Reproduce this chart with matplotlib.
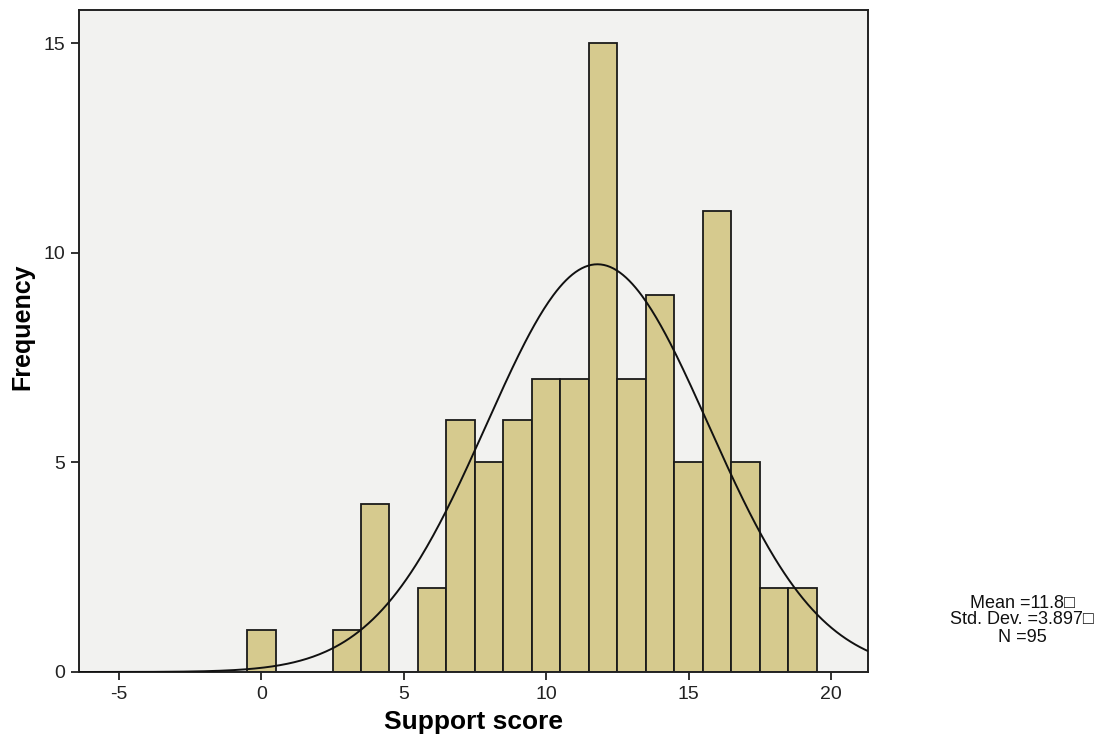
import numpy as np
import matplotlib
matplotlib.use("Agg")
import matplotlib.pyplot as plt

# Data
bin_centers = list(range(0, 20))
frequencies = [1, 0, 0, 1, 4, 0, 2, 6, 5, 6, 7, 7, 15, 7, 9, 5, 11, 5, 2, 2]
mean_val = 11.8
std_val = 3.897
n_val = 95
x_ticks = [-5, 0, 5, 10, 15, 20]
y_ticks = [0, 5, 10, 15]

plt.rcParams['font.family'] = ['Liberation Sans', 'DejaVu Sans']
plt.rcParams['axes.unicode_minus'] = False

fig = plt.figure(figsize=(11.14, 7.37), dpi=100)
ax = fig.add_axes([0.0709, 0.0882, 0.7083, 0.8982])
ax.set_facecolor('#f2f2f0')

ax.bar(bin_centers, frequencies, width=1.0, color='#d6ca8e', edgecolor='#1a1a1a',
       linewidth=1.3, zorder=2)

xs = np.linspace(-6.4, 21.3, 500)
ys = n_val * 1.0 / (std_val * np.sqrt(2 * np.pi)) * np.exp(-0.5 * ((xs - mean_val) / std_val) ** 2)
ax.plot(xs, ys, color='#111111', linewidth=1.4, zorder=3)

ax.set_xlim(-6.4, 21.3)
ax.set_ylim(0, 15.79)
ax.set_xticks(x_ticks)
ax.set_yticks(y_ticks)
ax.tick_params(axis='both', direction='out', length=6, width=1.3, labelsize=14,
               color='#222222', labelcolor='#222222', pad=4)
for s in ax.spines.values():
    s.set_linewidth(1.4)
    s.set_color('#222222')

ax.set_xlabel('Support score', fontsize=19, fontweight='bold', labelpad=5)
ax.set_ylabel('Frequency', fontsize=18, fontweight='bold')
ax.yaxis.set_label_coords(-0.056, 0.522)

fig.text(1022/1114, 1 - 620/737,
         'Mean =11.8\u25a1\nStd. Dev. =3.897\u25a1\nN =95',
         ha='center', va='center', fontsize=13, linespacing=1.0, color='#111111',
         family=['Liberation Sans', 'DejaVu Sans'])

fig.savefig('out.png', dpi=100)
